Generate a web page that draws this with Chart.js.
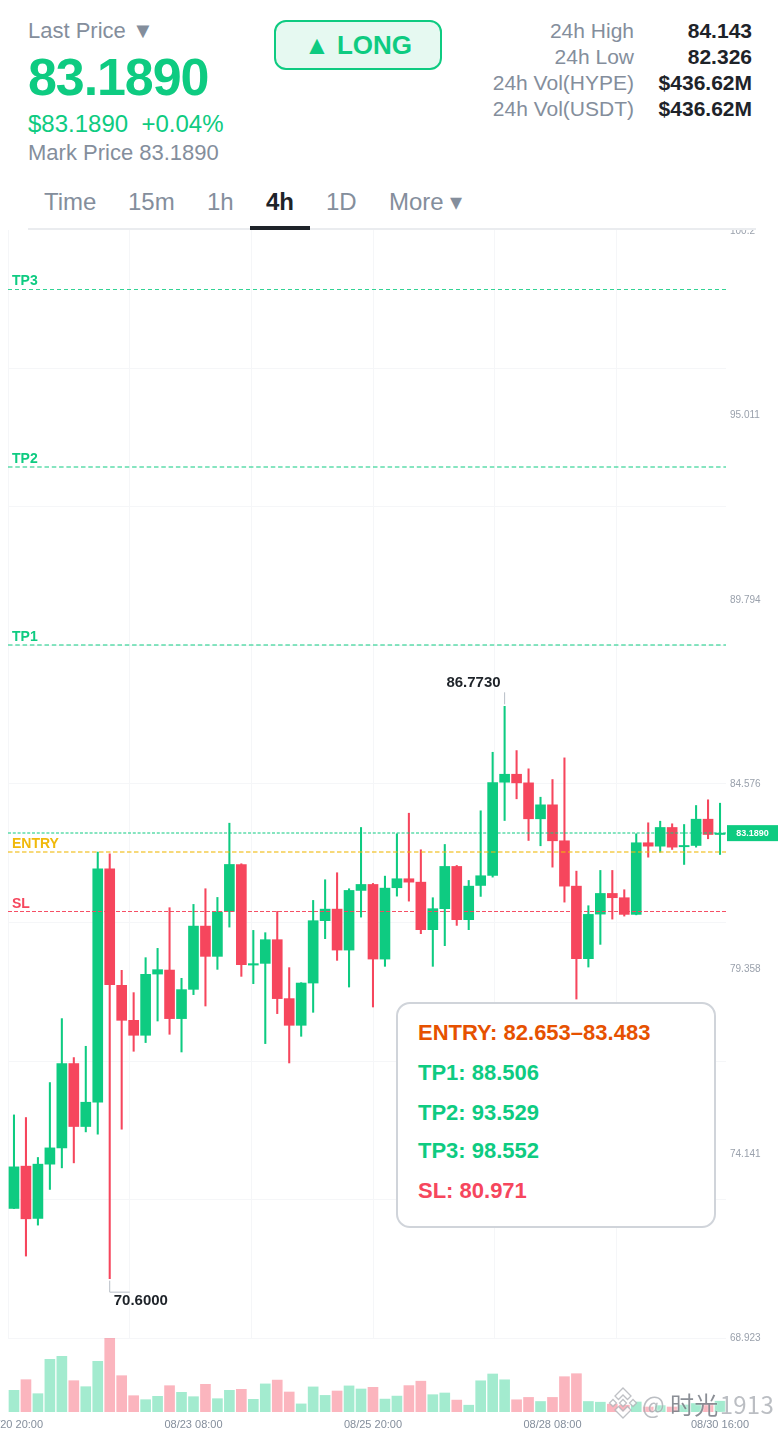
<!DOCTYPE html>
<html>
<head>
<meta charset="utf-8">
<title>HYPE 4h</title>
<script src="https://cdn.jsdelivr.net/npm/chart.js@4"></script>
<style>
html, body { margin: 0; padding: 0; background: #fff; }
body { position: relative; width: 780px; height: 1430px; overflow: hidden; font-family: "Liberation Sans", Arial, sans-serif; }
.abs { position: absolute; white-space: nowrap; line-height: 1; }
.gray { color: #848e9c; }
.dark { color: #1e2329; }
.green { color: #0ecb81; }
.red { color: #f6465d; }
canvas { position: absolute; left: 0; }
#priceChart { top: 230px; }
#volumeChart { top: 1338px; }
#long { position: absolute; left: 274px; top: 20px; width: 164px; height: 46px; border: 2px solid #0ecb81; border-radius: 12px; background: #e6f9f1; color: #0ecb81; font-weight: bold; font-size: 26px; line-height: 46px; text-align: center; }
.stat { position: absolute; font-size: 21px; line-height: 26px; height: 26px; white-space: nowrap; }
.tab { position: absolute; top: 190px; font-size: 24px; line-height: 24px; color: #848e9c; white-space: nowrap; }
#tabline { position: absolute; left: 28px; top: 228px; width: 728px; height: 2px; background: #eaecef; }
#tabon { position: absolute; left: 250px; top: 226px; width: 60px; height: 4px; background: #1e2329; }
#levels { position: absolute; left: 396px; top: 1002px; width: 316px; height: 222px; border: 2px solid #d0d4da; border-radius: 14px; background: #fff; }
#levels div { position: absolute; left: 20px; font-size: 22px; font-weight: bold; line-height: 22px; white-space: nowrap; }
#mark { position: absolute; left: 608px; top: 1387px; }
#wm { position: absolute; left: 642px; top: 1387px; font-family: "Noto Sans CJK SC", "Liberation Sans", sans-serif; font-size: 24px; line-height: 34px; color: rgba(120, 125, 135, 0.5); text-shadow: 0 0 2px rgba(255,255,255,0.9); white-space: nowrap; letter-spacing: 0.3px; }
#wm b { font-weight: normal; color: rgba(90, 95, 105, 0.7); margin-left: 5px; margin-right: 1px; }
</style>
</head>
<body>

<div class="abs gray" style="left:28px;top:20px;font-size:22px">Last Price &#9660;</div>
<div class="abs green" style="left:28px;top:51px;font-size:52px;font-weight:bold;letter-spacing:-1.1px">83.1890</div>
<div class="abs green" style="left:28px;top:112px;font-size:24px">$83.1890&nbsp;&nbsp;+0.04%</div>
<div class="abs gray" style="left:28px;top:142px;font-size:22px">Mark Price 83.1890</div>
<div id="long">&#9650; LONG</div>

<div class="stat gray" style="right:146px;top:18px">24h High</div>
<div class="stat gray" style="right:146px;top:44px">24h Low</div>
<div class="stat gray" style="right:146px;top:70px">24h Vol(HYPE)</div>
<div class="stat gray" style="right:146px;top:96px">24h Vol(USDT)</div>
<div class="stat dark" style="right:28px;top:18px;font-weight:bold">84.143</div>
<div class="stat dark" style="right:28px;top:44px;font-weight:bold">82.326</div>
<div class="stat dark" style="right:28px;top:70px;font-weight:bold">$436.62M</div>
<div class="stat dark" style="right:28px;top:96px;font-weight:bold">$436.62M</div>

<div class="tab" style="left:44px">Time</div>
<div class="tab" style="left:128px">15m</div>
<div class="tab" style="left:207px">1h</div>
<div class="tab" style="left:266px;color:#1e2329;font-weight:bold">4h</div>
<div class="tab" style="left:326px">1D</div>
<div class="tab" style="left:389px">More &#9662;</div>
<div id="tabline"></div>
<div id="tabon"></div>

<canvas id="priceChart" width="780" height="1120"></canvas>
<canvas id="volumeChart" width="780" height="92"></canvas>

<div id="levels">
  <div style="top:18px;color:#e65100">ENTRY: 82.653&ndash;83.483</div>
  <div style="top:58px;color:#0ecb81">TP1: 88.506</div>
  <div style="top:98px;color:#0ecb81">TP2: 93.529</div>
  <div style="top:136px;color:#0ecb81">TP3: 98.552</div>
  <div style="top:176px;color:#f6465d">SL: 80.971</div>
</div>

<svg id="mark" width="30" height="32" viewBox="0 0 30 32" fill="rgba(255,255,255,0.9)" stroke="rgba(175,177,183,0.8)" stroke-width="1.3">
  <path d="M15 1 L23 9 L19.5 12.5 L15 8 L10.5 12.5 L7 9 Z"/>
  <path d="M15 31 L23 23 L19.5 19.5 L15 24 L10.5 19.5 L7 23 Z"/>
  <path d="M5 12.5 L8.5 16 L5 19.5 L1.5 16 Z"/>
  <path d="M25 12.5 L28.5 16 L25 19.5 L21.5 16 Z"/>
  <path d="M15 12.5 L18.5 16 L15 19.5 L11.5 16 Z"/>
</svg>
<div id="wm">@<b>时光</b>1913</div>

<script>
var categories = [
    '08/20 20:00',
    '08/21 00:00', '08/21 04:00', '08/21 08:00', '08/21 12:00', '08/21 16:00', '08/21 20:00',
    '08/22 00:00', '08/22 04:00', '08/22 08:00', '08/22 12:00', '08/22 16:00', '08/22 20:00',
    '08/23 00:00', '08/23 04:00', '08/23 08:00', '08/23 12:00', '08/23 16:00', '08/23 20:00',
    '08/24 00:00', '08/24 04:00', '08/24 08:00', '08/24 12:00', '08/24 16:00', '08/24 20:00',
    '08/25 00:00', '08/25 04:00', '08/25 08:00', '08/25 12:00', '08/25 16:00', '08/25 20:00',
    '08/26 00:00', '08/26 04:00', '08/26 08:00', '08/26 12:00', '08/26 16:00', '08/26 20:00',
    '08/27 00:00', '08/27 04:00', '08/27 08:00', '08/27 12:00', '08/27 16:00', '08/27 20:00',
    '08/28 00:00', '08/28 04:00', '08/28 08:00', '08/28 12:00', '08/28 16:00', '08/28 20:00',
    '08/29 00:00', '08/29 04:00', '08/29 08:00', '08/29 12:00', '08/29 16:00', '08/29 20:00',
    '08/30 00:00', '08/30 04:00', '08/30 08:00', '08/30 12:00', '08/30 16:00'
];

var opens = [
    72.584, 73.779, 72.302, 73.835, 74.295, 76.678, 74.899, 75.585, 82.183, 78.888,
    77.900, 77.477, 79.207, 79.320, 77.948, 78.775, 80.562, 79.707, 80.977, 82.304,
    79.461, 79.509, 80.178, 78.513, 77.759, 78.953, 80.715, 81.042, 79.885, 81.570,
    81.739, 79.631, 81.646, 81.900, 81.804, 80.461, 81.054, 82.248, 80.743, 81.711,
    81.993, 84.628, 84.853, 84.610, 83.594, 83.989, 82.973, 81.691, 79.642, 80.901,
    81.485, 81.364, 80.893, 82.917, 82.821, 83.349, 82.804, 82.840, 83.583, 83.151
];
var highs = [
    75.227, 75.153, 74.024, 76.141, 77.948, 76.847, 77.166, 82.651, 82.606, 79.312,
    78.682, 79.670, 79.933, 81.082, 79.086, 81.175, 81.618, 81.372, 83.470, 82.324,
    80.441, 80.376, 80.977, 79.388, 78.964, 81.288, 81.872, 82.070, 81.618, 83.349,
    81.768, 81.974, 83.171, 83.752, 82.719, 81.364, 82.869, 82.276, 81.852, 83.820,
    85.474, 86.773, 85.522, 85.006, 84.204, 84.704, 85.316, 82.115, 81.138, 82.135,
    82.135, 81.590, 83.171, 83.481, 83.526, 83.453, 83.433, 83.970, 84.131, 84.035
];
var lows = [
    72.580, 71.238, 72.113, 73.121, 73.731, 73.872, 74.747, 74.682, 70.600, 74.823,
    77.025, 77.271, 77.880, 77.505, 77.005, 78.626, 78.304, 79.340, 80.534, 79.142,
    78.936, 77.242, 78.089, 76.695, 77.448, 78.126, 80.207, 79.594, 78.840, 80.816,
    78.276, 79.425, 81.409, 81.268, 80.348, 79.425, 80.009, 80.582, 80.461, 81.401,
    81.946, 83.546, 84.159, 82.982, 82.832, 82.228, 81.240, 78.501, 79.405, 80.046,
    80.760, 80.845, 80.880, 82.510, 82.651, 82.728, 82.304, 82.793, 83.030, 82.586
];
var closes = [
    73.759, 72.291, 73.835, 74.295, 76.678, 74.899, 75.585, 82.183, 78.908, 77.900,
    77.477, 79.199, 79.331, 77.948, 78.767, 80.562, 79.707, 80.957, 82.304, 79.473,
    79.501, 80.178, 78.513, 77.759, 78.953, 80.715, 81.042, 79.885, 81.570, 81.739,
    79.631, 81.635, 81.900, 81.804, 80.461, 81.054, 82.248, 80.743, 81.691, 81.985,
    84.619, 84.853, 84.610, 83.594, 83.989, 82.973, 81.691, 79.642, 80.893, 81.485,
    81.364, 80.893, 82.917, 82.821, 83.349, 82.793, 82.840, 83.583, 83.151, 83.189
];
var volumes = [
    21.7, 32.3, 18.3, 52.7, 55.7, 31.3, 25.3, 50.7, 73.7, 36.3,
    16.3, 12.3, 15.7, 26.3, 19.7, 15.3, 27.7, 13.3, 21.7, 22.7,
    12.7, 28.1, 31.9, 20.0, 8.1, 25.1, 16.6, 21.0, 26.1, 23.0,
    24.7, 12.9, 15.9, 26.4, 30.8, 17.3, 19.0, 11.9, 6.8, 31.2,
    38.0, 32.2, 12.2, 14.6, 10.5, 14.6, 35.3, 38.3, 10.5, 9.8,
    7.8, 6.8, 10.0, 5.0, 6.4, 5.0, 7.0, 8.5, 8.5, 10.8
];

var priceMin = 68.923;
var priceMax = 100.232;
var priceTicks = [68.923, 74.141, 79.358, 84.576, 89.794, 95.011, 100.2];
var gridLevels = [68.923, 72.837, 76.750, 80.664, 84.578, 88.491, 92.405, 96.318];
var xTickIndexes = [0, 15, 30, 45, 59];
var xGridSteps = [0, 1, 2, 3, 4, 5];

var lastPrice = 83.189;
var tp1 = 88.506;
var tp2 = 93.529;
var tp3 = 98.552;
var entryLow = 82.653;
var stopLoss = 80.971;
var highIndex = 41;
var lowIndex = 8;

var GREEN = '#0ecb81';
var RED = '#f6465d';
var GRID = '#f5f6f8';

function isUp(i) {
    return closes[i] >= opens[i];
}

function pairs(a, b) {
    return a.map(function (v, i) { return [v, b[i]]; });
}

function setTicks(values) {
    return function (scale) {
        scale.ticks = values.map(function (v) { return { value: v }; });
    };
}

function noPadding(scale) {
    scale.paddingTop = 0;
    scale.paddingBottom = 0;
    scale.paddingLeft = 0;
    scale.paddingRight = 0;
}

// level lines, tp labels, price tag and high/low markers
var overlayPlugin = {
    id: 'overlay',
    afterDatasetsDraw: function (chart) {
        var ctx = chart.ctx;
        var area = chart.chartArea;
        var y = chart.scales.y;
        var x = chart.scales.x;

        function level(value, color, dash, width, label) {
            // thin lines sit on one pixel row, thick ones across two
            var py = Math.round(y.getPixelForValue(value) - 0.2) + (width < 1.5 ? 0.5 : 0);
            ctx.save();
            ctx.strokeStyle = color;
            ctx.lineWidth = width;
            ctx.setLineDash(dash);
            ctx.beginPath();
            ctx.moveTo(area.left, py);
            ctx.lineTo(area.right, py);
            ctx.stroke();
            ctx.restore();
            if (label) {
                ctx.font = 'bold 14px "Liberation Sans"';
                ctx.fillStyle = label.color;
                ctx.textAlign = 'left';
                ctx.textBaseline = 'middle';
                ctx.fillText(label.text, 12, py + label.dy);
            }
        }

        level(tp3, 'rgba(14,203,129,0.85)', [4, 3], 1, { text: 'TP3', color: GREEN, dy: -8 });
        level(tp2, 'rgba(14,203,129,0.5)', [4.5, 2.8], 2, { text: 'TP2', color: GREEN, dy: -8 });
        level(tp1, 'rgba(14,203,129,0.5)', [4.5, 2.8], 2, { text: 'TP1', color: GREEN, dy: -8 });
        level(lastPrice, 'rgba(14,203,129,0.5)', [3, 1.8], 2, null);
        level(entryLow, 'rgba(240,185,11,0.55)', [4.5, 2.5], 2, { text: 'ENTRY', color: '#f0b90b', dy: -8 });
        level(stopLoss, 'rgba(246,70,93,0.95)', [4, 2], 1, { text: 'SL', color: RED, dy: -7 });

        // last price tag
        var tagY = y.getPixelForValue(lastPrice);
        ctx.fillStyle = GREEN;
        ctx.fillRect(727, tagY - 8, 51, 16);
        ctx.fillStyle = '#fff';
        ctx.font = 'bold 9px "Liberation Sans"';
        ctx.textAlign = 'center';
        ctx.textBaseline = 'middle';
        ctx.fillText(lastPrice.toFixed(4), 752.5, tagY + 0.5);

        // high and low leader lines
        var hx = x.getPixelForValue(highIndex);
        var hy = y.getPixelForValue(highs[highIndex]);
        var lx = x.getPixelForValue(lowIndex);
        var ly = y.getPixelForValue(lows[lowIndex]);
        ctx.strokeStyle = '#b7bdc6';
        ctx.lineWidth = 1;
        ctx.beginPath();
        ctx.moveTo(hx, hy - 2);
        ctx.lineTo(hx, hy - 14);
        ctx.moveTo(lx, ly + 2);
        ctx.lineTo(lx, ly + 13.5);
        ctx.lineTo(lx + 20, ly + 13.5);
        ctx.stroke();

        ctx.fillStyle = '#1e2329';
        ctx.font = 'bold 15px "Liberation Sans"';
        ctx.textAlign = 'right';
        ctx.fillText(highs[highIndex].toFixed(4), hx - 4, hy - 23);
        ctx.textAlign = 'left';
        ctx.fillText(lows[lowIndex].toFixed(4), lx + 4, ly + 22);
    }
};

function initPriceChart() {
    var ctx = document.getElementById('priceChart').getContext('2d');
    var colors = categories.map(function (c, i) { return isUp(i) ? GREEN : RED; });
    new Chart(ctx, {
        type: 'bar',
        data: {
            labels: categories,
            datasets: [{
                // wicks
                data: pairs(lows, highs),
                backgroundColor: colors,
                barThickness: 1.4,
                grouped: false,
                order: 2
            }, {
                // bodies
                data: pairs(opens, closes),
                backgroundColor: colors,
                barThickness: 10,
                grouped: false,
                order: 1
            }]
        },
        options: {
            responsive: false,
            animation: false,
            layout: { padding: { left: 8, right: 0, top: 0, bottom: 12 } },
            plugins: { legend: { display: false }, tooltip: { enabled: false } },
            scales: {
                x: { type: 'category', display: false, offset: true },
                gridX: {
                    type: 'linear',
                    axis: 'x',
                    position: 'bottom',
                    offset: false,
                    min: 0,
                    max: 5.9,
                    afterBuildTicks: setTicks(xGridSteps),
                    afterFit: function (scale) { scale.height = 0; noPadding(scale); },
                    border: { display: false },
                    grid: { color: GRID, drawTicks: false, offset: false },
                    ticks: { display: false, autoSkip: false }
                },
                gridY: {
                    type: 'linear',
                    position: 'right',
                    min: priceMin,
                    max: priceMax,
                    afterBuildTicks: setTicks(gridLevels),
                    afterFit: function (scale) { scale.width = 0; noPadding(scale); },
                    border: { display: false },
                    grid: { color: GRID, drawTicks: false },
                    ticks: { display: false, autoSkip: false }
                },
                y: {
                    type: 'linear',
                    position: 'right',
                    min: priceMin,
                    max: priceMax,
                    afterBuildTicks: setTicks(priceTicks),
                    afterFit: function (scale) { scale.width = 54; noPadding(scale); },
                    border: { display: false },
                    grid: { display: false, drawTicks: false },
                    ticks: {
                        autoSkip: false,
                        padding: 4,
                        labelOffset: 0.5,
                        color: '#9aa1ac',
                        font: { family: '"Liberation Sans"', size: 10 },
                        callback: function (v) { return v === 100.2 ? '100.2' : v.toFixed(3); }
                    }
                }
            }
        },
        plugins: [overlayPlugin]
    });
}

function initVolumeChart() {
    var ctx = document.getElementById('volumeChart').getContext('2d');
    new Chart(ctx, {
        type: 'bar',
        data: {
            labels: categories,
            datasets: [{
                data: volumes,
                backgroundColor: categories.map(function (c, i) {
                    return isUp(i) ? 'rgba(14,203,129,0.38)' : 'rgba(246,70,93,0.4)';
                }),
                barThickness: 10
            }]
        },
        options: {
            responsive: false,
            animation: false,
            layout: { padding: { left: 8, right: 54, top: 0, bottom: 0 } },
            plugins: { legend: { display: false }, tooltip: { enabled: false } },
            scales: {
                x: {
                    type: 'category',
                    offset: true,
                    afterBuildTicks: setTicks(xTickIndexes),
                    afterFit: function (scale) { scale.height = 18; noPadding(scale); },
                    border: { display: false },
                    grid: { display: false, drawTicks: false },
                    ticks: {
                        autoSkip: false,
                        maxRotation: 0,
                        padding: 6,
                        color: '#848e9c',
                        font: { family: '"Liberation Sans"', size: 11 }
                    }
                },
                y: { display: false, min: 0, max: 74 }
            }
        }
    });
}

initPriceChart();
initVolumeChart();
</script>
</body>
</html>
